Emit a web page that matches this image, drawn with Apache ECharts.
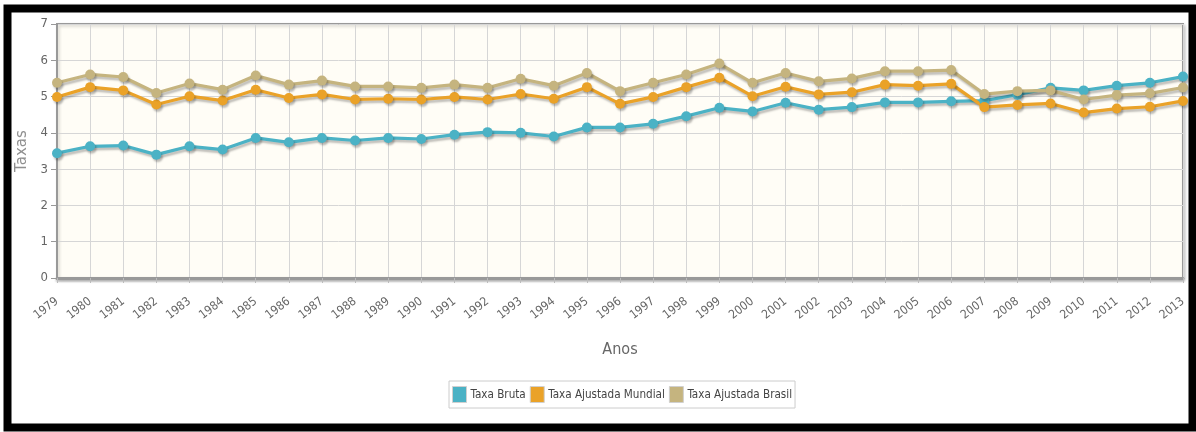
<!DOCTYPE html>
<html>
<head>
<meta charset="utf-8">
<title>Taxas 1979-2013</title>
<script src="https://cdn.jsdelivr.net/npm/echarts@6/dist/echarts.min.js"></script>
<style>
  html, body { margin: 0; padding: 0; background: #ffffff; }
  #chart { width: 1196px; height: 432px; }
</style>
</head>
<body>
<div id="chart"></div>
<script>
// Years on the horizontal axis
var anos = ['1979','1980','1981','1982','1983','1984','1985','1986','1987','1988',
            '1989','1990','1991','1992','1993','1994','1995','1996','1997','1998',
            '1999','2000','2001','2002','2003','2004','2005','2006','2007','2008',
            '2009','2010','2011','2012','2013'];

// Crude rate
var taxaBruta = [3.44, 3.63, 3.65, 3.40, 3.63, 3.54, 3.86, 3.74, 3.86, 3.79,
                 3.86, 3.83, 3.95, 4.02, 4.00, 3.90, 4.15, 4.15, 4.25, 4.46,
                 4.69, 4.59, 4.83, 4.64, 4.71, 4.84, 4.84, 4.87, 4.89, 5.05,
                 5.24, 5.17, 5.30, 5.38, 5.55];

// Rate adjusted to the world standard population
var taxaMundial = [4.99, 5.26, 5.17, 4.78, 5.01, 4.89, 5.19, 4.96, 5.06, 4.92,
                   4.94, 4.92, 4.99, 4.92, 5.07, 4.94, 5.26, 4.80, 4.99, 5.26,
                   5.52, 5.01, 5.27, 5.06, 5.12, 5.33, 5.30, 5.35, 4.71, 4.77,
                   4.81, 4.56, 4.67, 4.72, 4.88];

// Rate adjusted to the Brazilian standard population
var taxaBrasil = [5.38, 5.61, 5.54, 5.10, 5.36, 5.19, 5.58, 5.33, 5.44, 5.28,
                  5.28, 5.24, 5.33, 5.24, 5.49, 5.30, 5.65, 5.15, 5.38, 5.61,
                  5.91, 5.38, 5.65, 5.42, 5.50, 5.70, 5.70, 5.73, 5.07, 5.15,
                  5.17, 4.92, 5.04, 5.09, 5.25];

var yTicks = { min: 0, max: 7, interval: 1 };

var narrow = "'DejaVu Sans Condensed', 'Liberation Sans Narrow', 'Liberation Sans', sans-serif";
var shadow = { shadowColor: 'rgba(0,0,0,0.25)', shadowBlur: 2, shadowOffsetX: 1.5, shadowOffsetY: 2.5 };

function serie(nome, dados, cor) {
  return {
    name: nome,
    type: 'line',
    data: dados,
    symbol: 'circle',
    symbolSize: 10,
    showSymbol: true,
    lineStyle: Object.assign({ color: cor, width: 3.2 }, shadow),
    itemStyle: Object.assign({ color: cor, borderWidth: 0 }, shadow),
    emphasis: { disabled: true },
    animation: false
  };
}

var chart = echarts.init(document.getElementById('chart'), null, { renderer: 'canvas' });

chart.setOption({
  animation: false,
  backgroundColor: '#ffffff',
  grid: {
    left: 57, right: 13, top: 24, bottom: 154,
    show: true,
    backgroundColor: '#fffdf6',
    borderColor: '#999999',
    borderWidth: 2,
    shadowColor: 'rgba(0,0,0,0.18)',
    shadowBlur: 3,
    shadowOffsetX: 1.5,
    shadowOffsetY: 1.5
  },
  legend: {
    data: ['Taxa Bruta', 'Taxa Ajustada Mundial', 'Taxa Ajustada Brasil'],
    left: 449,
    top: 381,
    orient: 'horizontal',
    icon: 'rect',
    itemWidth: 14,
    itemHeight: 16,
    itemGap: 4,
    padding: [5, 3, 5, 3],
    backgroundColor: '#ffffff',
    borderColor: '#cccccc',
    borderWidth: 1,
    selectedMode: false,
    itemStyle: { borderColor: '#d0d0d0', borderWidth: 1, shadowBlur: 0, shadowOffsetX: 0, shadowOffsetY: 0 },
    textStyle: { fontFamily: narrow, fontSize: 11.6, color: '#444444', padding: [0, 0, 0, -1] }
  },
  xAxis: {
    type: 'category',
    data: anos,
    boundaryGap: false,
    name: 'Anos',
    nameLocation: 'middle',
    nameGap: 64,
    nameTextStyle: { fontFamily: narrow, fontSize: 16, color: '#666666' },
    axisLine: { show: true, lineStyle: { color: '#999999', width: 3, shadowColor: 'rgba(0,0,0,0.2)', shadowBlur: 2, shadowOffsetY: 2 } },
    axisTick: { show: true, alignWithLabel: true, length: 5, lineStyle: { color: '#bbbbbb' } },
    axisLabel: {
      rotate: 38,
      margin: 22,
      interval: 0,
      fontFamily: narrow,
      fontSize: 12,
      color: '#666666'
    },
    splitLine: { show: true, lineStyle: { color: '#d6d6d6', width: 1 } }
  },
  yAxis: {
    type: 'value',
    min: yTicks.min,
    max: yTicks.max,
    interval: yTicks.interval,
    name: 'Taxas',
    nameLocation: 'middle',
    nameGap: 25,
    nameTextStyle: { fontFamily: "'DejaVu Sans', sans-serif", fontSize: 15, color: '#909090' },
    axisLine: { show: true, lineStyle: { color: '#999999', width: 2 } },
    axisTick: { show: true, length: 6, lineStyle: { color: '#999999' } },
    axisLabel: { margin: 9, fontFamily: narrow, fontSize: 13, color: '#666666' },
    splitLine: { show: true, lineStyle: { color: '#d6d6d6', width: 1 } }
  },
  series: [
    serie('Taxa Bruta', taxaBruta, '#4bb2c5'),
    serie('Taxa Ajustada Mundial', taxaMundial, '#eaa228'),
    serie('Taxa Ajustada Brasil', taxaBrasil, '#c5b47f')
  ],
  graphic: [{
    type: 'rect',
    silent: true,
    z: 100,
    shape: { x: 7.5, y: 8.5, width: 1185, height: 419 },
    style: { fill: 'none', stroke: '#000000', lineWidth: 8 }
  }]
});
</script>
</body>
</html>
